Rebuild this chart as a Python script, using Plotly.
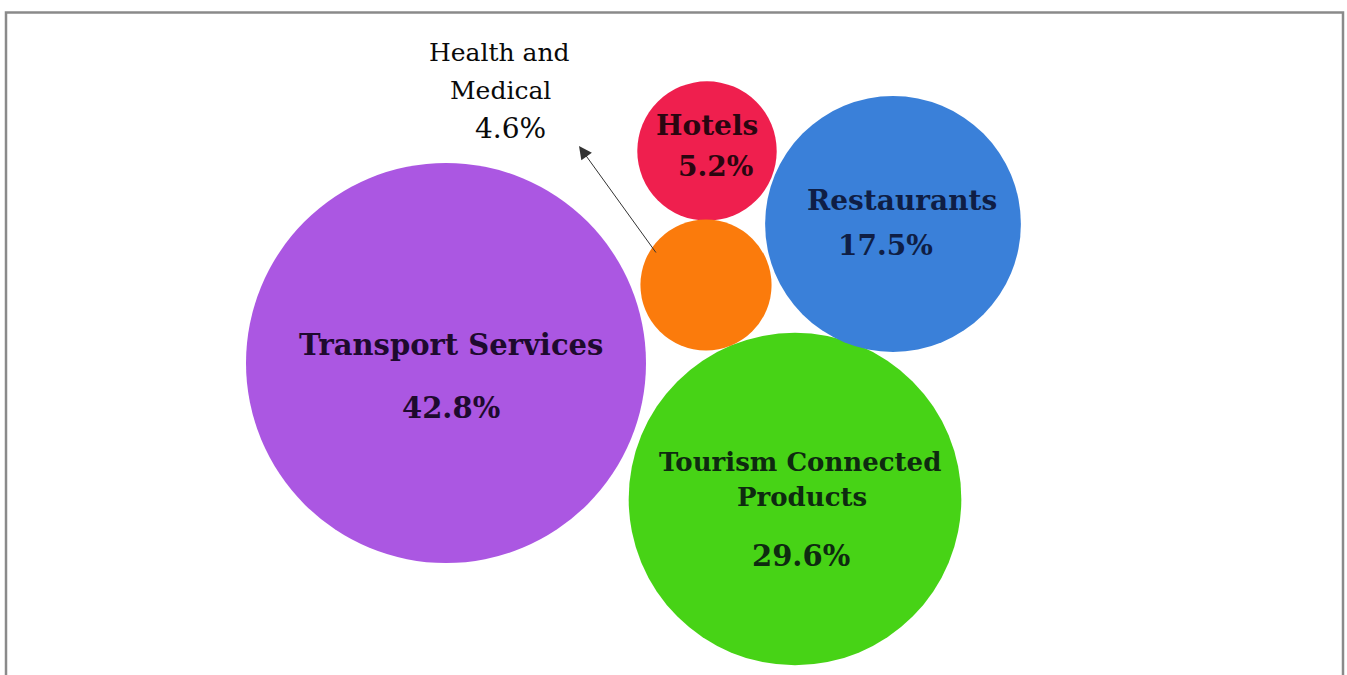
import math
import plotly.graph_objects as go

# Share of spending by category (%)
categories = ["Transport Services", "Tourism Connected Products", "Restaurants", "Hotels", "Health and Medical"]
shares = [42.8, 29.6, 17.5, 5.2, 4.6]

# Bubble layout (pixel canvas coordinates) and styling
centers_x = [446, 795, 893, 707, 706]
centers_y = [363, 499, 224, 151, 285]
colors = ["#AB57E2", "#47D316", "#3A80D9", "#EF1F4E", "#FB7B0C"]
text_colors = ["#1E0A2E", "#0E2A10", "#0F1E45", "#2A0610", "#111111"]

W, H = 1347, 675
R_MAX = 200  # radius in px of the largest bubble

# area proportional to share
diameters = [2 * R_MAX * math.sqrt(v / max(shares)) for v in shares]

fig = go.Figure()
fig.add_trace(go.Scatter(
    x=centers_x, y=centers_y, mode="markers",
    marker=dict(size=diameters, sizemode="diameter", color=colors,
                opacity=1, line=dict(width=0)),
    hoverinfo="text", text=[f"{c}: {v}%" for c, v in zip(categories, shares)],
    showlegend=False,
))

FONT = "DejaVu Serif"

def label(x, y, text, size, color, bold=True):
    fig.add_annotation(x=x, y=y, text=f"<b>{text}</b>" if bold else text,
                       showarrow=False, xref="x", yref="y",
                       font=dict(family=FONT, size=size, color=color))

# Transport Services
label(451, 345, categories[0], 29, text_colors[0])
label(451, 408, f"{shares[0]}%", 29, text_colors[0])
# Tourism Connected Products
label(800, 462, "Tourism Connected", 26, text_colors[1])
label(802, 497, "Products", 26, text_colors[1])
label(801, 556, f"{shares[1]}%", 29, text_colors[1])
# Restaurants
label(902, 200, categories[2], 28, text_colors[2])
label(885, 245, f"{shares[2]}%", 28, text_colors[2])
# Hotels
label(707, 125, categories[3], 28, text_colors[3])
label(715, 166, f"{shares[3]}%", 28, text_colors[3])
# Health and Medical (outside, with pointer)
label(499, 52, "Health and", 25, "#0A0A0A", bold=False)
label(500, 90, "Medical", 25, "#0A0A0A", bold=False)
label(510, 128, f"{shares[4]}%", 28, "#0A0A0A", bold=False)

fig.add_annotation(x=579, y=146, ax=657, ay=254, xref="x", yref="y",
                   axref="x", ayref="y", text="", showarrow=True,
                   arrowhead=2, arrowsize=2.6, arrowwidth=1, arrowcolor="#333333")

# chart frame
fig.add_shape(type="rect", xref="paper", yref="paper",
              x0=6 / W, x1=1343 / W, y0=-0.05, y1=1 - 12.5 / H,
              line=dict(color="#8A8A8A", width=2.5), fillcolor="rgba(0,0,0,0)")

fig.update_xaxes(range=[0, W], visible=False, fixedrange=True)
fig.update_yaxes(range=[H, 0], visible=False, fixedrange=True)
fig.update_layout(width=W, height=H, margin=dict(l=0, r=0, t=0, b=0),
                  paper_bgcolor="white", plot_bgcolor="white")

fig.write_html("out.html")
